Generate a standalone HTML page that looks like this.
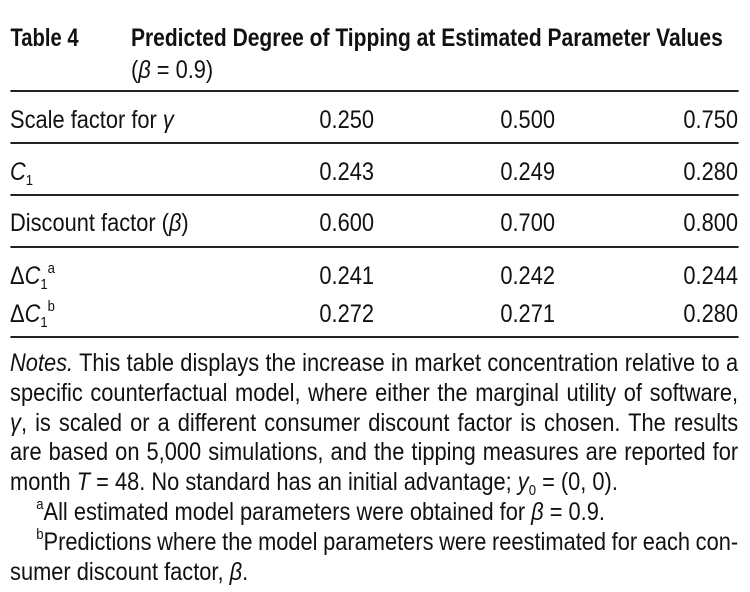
<!DOCTYPE html>
<html><head><meta charset="utf-8">
<style>
html,body{margin:0;padding:0;background:#fff;}
body{width:750px;height:592px;overflow:hidden;position:relative;}
#wrap{position:absolute;left:0;top:0;width:859.1px;height:592px;transform:scaleX(0.873);transform-origin:0 0;
 font-family:"Liberation Sans",sans-serif;font-size:25px;color:#111;}
.t{position:absolute;line-height:30px;white-space:nowrap;}
.n{text-align:right;}
.rule{position:absolute;left:11.5px;width:834px;height:2px;background:#222;}
i{font-style:italic;}
sub,sup{font-size:15px;line-height:0;}
sup{vertical-align:11px;}
sub{vertical-align:-5px;}
.nl{position:absolute;left:11.5px;width:834px;line-height:30px;white-space:nowrap;text-align:justify;text-align-last:justify;word-spacing:-1px;}
.left{text-align-last:left;word-spacing:0;}
.ind{padding-left:30px;box-sizing:border-box;}
</style></head>
<body>
<div id="wrap">
  <div class="t" style="left:11.5px;top:23px;font-weight:bold;transform:scaleX(0.925);transform-origin:0 0;">Table 4</div>
  <div class="t" style="left:150px;top:23px;font-weight:bold;transform:scaleX(0.963);transform-origin:0 0;">Predicted Degree of Tipping at Estimated Parameter Values</div>
  <div class="t" style="left:150px;top:55px;">(<i>β</i> = 0.9)</div>
  <div class="rule" style="top:90px;"></div>

  <div class="t" style="left:11.5px;top:105px;">Scale factor for <i>γ</i></div>
  <div class="t n" style="right:430.7px;top:105px;">0.250</div>
  <div class="t n" style="right:223.4px;top:105px;">0.500</div>
  <div class="t n" style="right:13.7px;top:105px;">0.750</div>
  <div class="rule" style="top:142px;"></div>

  <div class="t" style="left:11.5px;top:157px;"><i>C</i><sub>1</sub></div>
  <div class="t n" style="right:430.7px;top:157px;">0.243</div>
  <div class="t n" style="right:223.4px;top:157px;">0.249</div>
  <div class="t n" style="right:13.7px;top:157px;">0.280</div>
  <div class="rule" style="top:194px;"></div>

  <div class="t" style="left:11.5px;top:208px;">Discount factor (<i>β</i>)</div>
  <div class="t n" style="right:430.7px;top:208px;">0.600</div>
  <div class="t n" style="right:223.4px;top:208px;">0.700</div>
  <div class="t n" style="right:13.7px;top:208px;">0.800</div>
  <div class="rule" style="top:246px;"></div>

  <div class="t" style="left:11.5px;top:261px;">Δ<i>C</i><sub>1</sub><sup>a</sup></div>
  <div class="t n" style="right:430.7px;top:261px;">0.241</div>
  <div class="t n" style="right:223.4px;top:261px;">0.242</div>
  <div class="t n" style="right:13.7px;top:261px;">0.244</div>

  <div class="t" style="left:11.5px;top:299px;">Δ<i>C</i><sub>1</sub><sup>b</sup></div>
  <div class="t n" style="right:430.7px;top:299px;">0.272</div>
  <div class="t n" style="right:223.4px;top:299px;">0.271</div>
  <div class="t n" style="right:13.7px;top:299px;">0.280</div>
  <div class="rule" style="top:336px;"></div>

  <div>
    <div class="nl" style="top:348px;"><i>Notes.</i> This table displays the increase in market concentration relative to a</div>
    <div class="nl" style="top:378px;">specific counterfactual model, where either the marginal utility of software,</div>
    <div class="nl" style="top:408px;"><i>γ</i>, is scaled or a different consumer discount factor is chosen. The results</div>
    <div class="nl" style="top:437px;">are based on 5,000 simulations, and the tipping measures are reported for</div>
    <div class="nl left" style="top:467px;">month <i>T</i> = 48. No standard has an initial advantage; <i>y</i><sub>0</sub> = (0, 0).</div>
    <div class="nl left ind" style="top:497px;"><sup>a</sup>All estimated model parameters were obtained for <i>β</i> = 0.9.</div>
    <div class="nl ind" style="top:527px;"><sup>b</sup>Predictions where the model parameters were reestimated for each con-</div>
    <div class="nl left" style="top:557px;">sumer discount factor, <i>β</i>.</div>
  </div>
</div>
</body></html>
